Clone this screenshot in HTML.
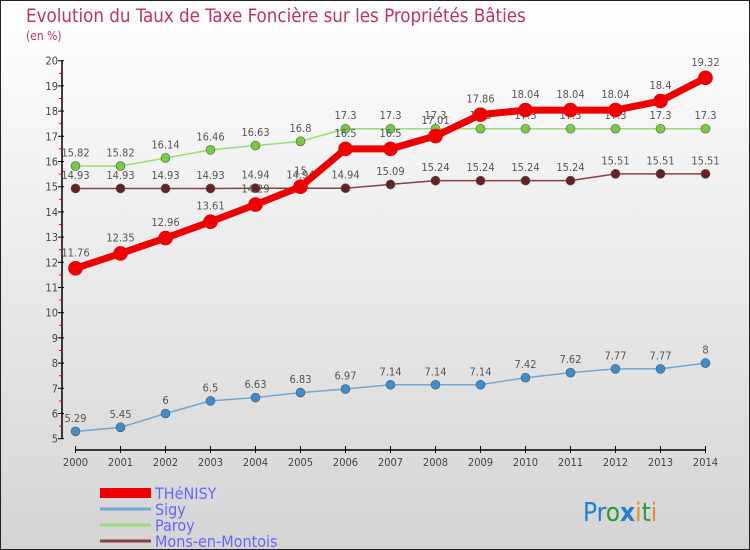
<!DOCTYPE html>
<html><head><meta charset="utf-8"><style>
body{margin:0}
#c{width:750px;height:550px;position:relative;overflow:hidden}
svg text{font-family:"DejaVu Sans Condensed","Liberation Sans Narrow","Liberation Sans",sans-serif}
</style></head><body>
<div id="c">
<svg id="s" width="750" height="550" xmlns="http://www.w3.org/2000/svg">
<defs><linearGradient id="bg" x1="0" y1="0" x2="0" y2="1"><stop offset="0" stop-color="#ffffff"/><stop offset="1" stop-color="#d4d4d4"/></linearGradient></defs>
<rect x="0.5" y="0.5" width="749" height="549" fill="url(#bg)" stroke="#222"/>
<text x="26" y="22" font-size="18.6" fill="#c2306a">Evolution du Taux de Taxe Foncière sur les Propriétés Bâties</text>
<text x="26" y="40" font-size="12" fill="#c2306a">(en %)</text>
<g id="axes"></g><g id="series"></g><g id="legend"></g>
<text x="583" y="521" font-size="26" font-family="Liberation Sans,sans-serif"><tspan fill="#1f7fd0">Pr</tspan><tspan fill="#2a9a3a">o</tspan><tspan fill="#1f7fd0" font-weight="bold">x</tspan><tspan fill="#f08a1a">i</tspan><tspan fill="#2a9a3a">t</tspan><tspan fill="#f08a1a">i</tspan></text>
</svg></div>
<script>
const years=[2000,2001,2002,2003,2004,2005,2006,2007,2008,2009,2010,2011,2012,2013,2014];
const thenisy=[11.76,12.35,12.96,13.61,14.29,15,16.5,16.5,17.01,17.86,18.04,18.04,18.04,18.4,19.32];
const sigy=[5.29,5.45,6,6.5,6.63,6.83,6.97,7.14,7.14,7.14,7.42,7.62,7.77,7.77,8];
const paroy=[15.82,15.82,16.14,16.46,16.63,16.8,17.3,17.3,17.3,17.3,17.3,17.3,17.3,17.3,17.3];
const mons=[14.93,14.93,14.93,14.93,14.94,14.94,14.94,15.09,15.24,15.24,15.24,15.24,15.51,15.51,15.51];
const yTicks=[5,6,7,8,9,10,11,12,13,14,15,16,17,18,19,20];
const seriesNames=["THéNISY","Sigy","Paroy","Mons-en-Montois"];
const NS="http://www.w3.org/2000/svg";
const x=i=>75.5+i*(705.5-75.5)/(years.length-1);
const y=v=>438.7-(v-5)*25.2;
function mk(t,a,p){const e=document.createElementNS(NS,t);for(const k in a)e.setAttribute(k,a[k]);p.appendChild(e);return e;}
const ax=document.getElementById('axes');
let l=mk('line',{x1:62,y1:y(20),x2:62,y2:y(5),stroke:'#000','stroke-width':1.5},ax);


l=mk('line',{x1:x(0),y1:450,x2:x(14),y2:450,stroke:'#000','stroke-width':1.5},ax);


yTicks.forEach(v=>{
 mk('line',{x1:58,y1:y(v),x2:64,y2:y(v),stroke:'#000'},ax);
 if(v<20)mk('line',{x1:59,y1:y(v+0.5),x2:63,y2:y(v+0.5),stroke:'#e00'},ax);
 const t=mk('text',{x:58,y:y(v)+4,'font-size':11,fill:'#444','text-anchor':'end'},ax);t.textContent=v;
 
 
});
years.forEach((yr,i)=>{
 mk('line',{x1:x(i),y1:446,x2:x(i),y2:453,stroke:'#000'},ax);
 const t=mk('text',{x:x(i),y:466,'font-size':11,fill:'#444','text-anchor':'middle'},ax);t.textContent=yr;
 
 
});
const sg=document.getElementById('series');
function draw(data,color,dot,w,r,name){
 const g=mk('g',{},sg);
 
 
 const pl=mk('polyline',{points:data.map((v,i)=>x(i)+','+y(v)).join(' '),fill:'none',stroke:color,'stroke-width':w,'stroke-linejoin':'round'},g);
 
 
 data.forEach((v,i)=>{
  const c=mk('circle',{cx:x(i),cy:y(v),r:r,fill:dot,stroke:w>4?dot:'#555','stroke-width':0.6},g);
  
  
  const t=mk('text',{x:x(i),y:y(v)-r-5,'font-size':11,fill:'#555','text-anchor':'middle'},g);t.textContent=v;
  
  
 });
}
draw(paroy,'#99dd77','#77cc44',1.5,4.5,'paroy');
draw(mons,'#884444','#662222',1.5,4.5,'mons-en-montois');
draw(sigy,'#6fa8d8','#3d8ccc',1.5,4.5,'sigy');
draw(thenisy,'#ee0000','#ee0000',7,7,'thenisy');
const lg=document.getElementById('legend');
const lc=['#ee0000','#6fa8d8','#99dd77','#884444'],lw=[10,3,3,3];
seriesNames.forEach((n,i)=>{
 const yy=493+i*16;
 const e=mk('g',{},lg);
 
 
 mk('line',{x1:100,y1:yy,x2:151,y2:yy,stroke:lc[i],'stroke-width':lw[i]},e);
 const t=mk('text',{x:155,y:yy+6,'font-size':16,fill:'#6666ff'},e);t.textContent=n;
});
</script>
</body></html>
